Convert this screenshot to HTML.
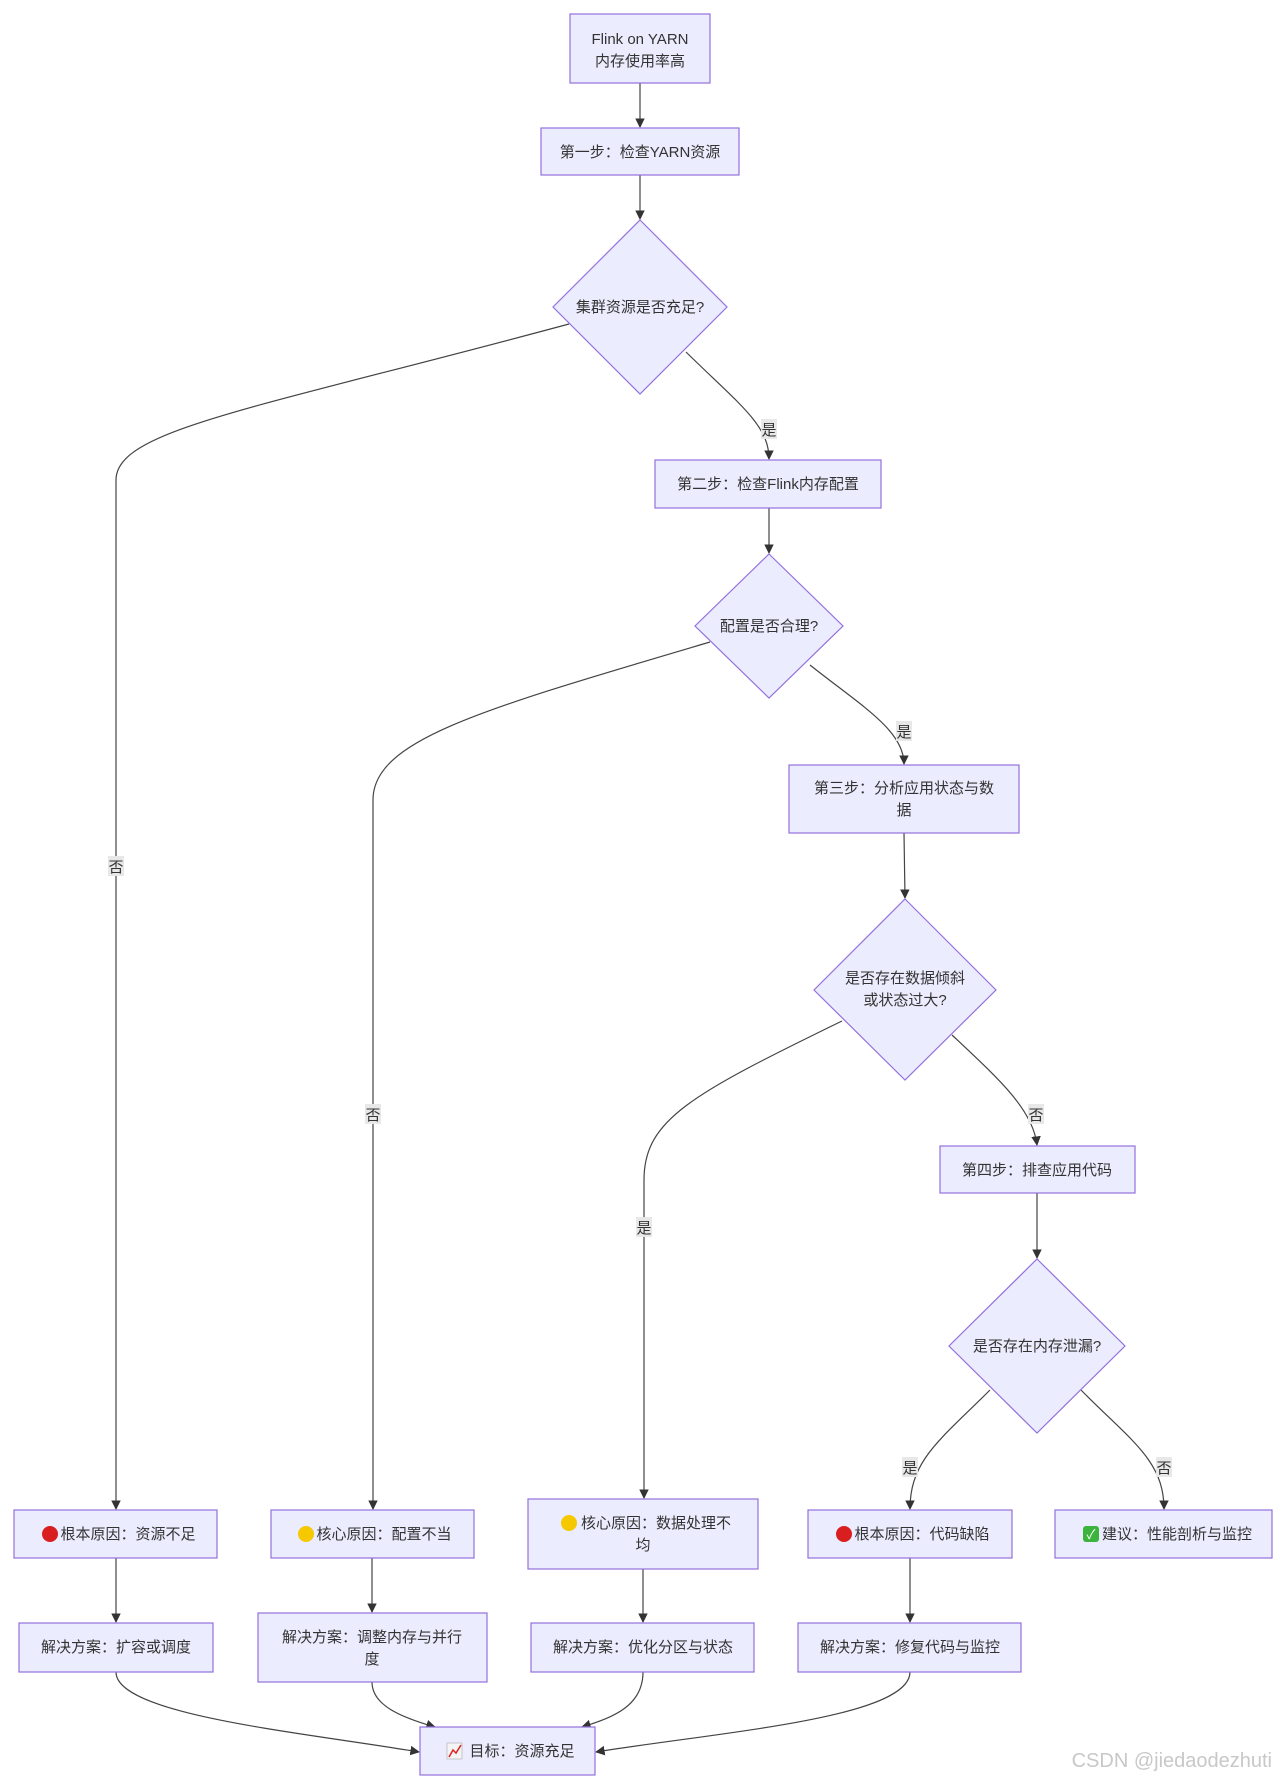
<!DOCTYPE html>
<html><head><meta charset="utf-8"><style>
html,body{margin:0;padding:0;background:#fff;}
svg{display:block;}
text{font-family:"Liberation Sans","Noto Sans CJK SC",sans-serif;font-size:15px;fill:#333;}
.n{fill:#ECECFF;stroke:#9370DB;stroke-width:1.2;}
.e{fill:none;stroke:#444;stroke-width:1.2;}
.lb{fill:#e8e8e8;}
</style></head><body>
<svg width="1280" height="1782" viewBox="0 0 1280 1782" xmlns="http://www.w3.org/2000/svg">
<defs><marker id="a" viewBox="0 0 10 10" refX="9" refY="5" markerWidth="8" markerHeight="8" orient="auto"><path d="M0,0L10,5L0,10z" fill="#333"/></marker></defs>

<path class="e" d="M640,83 L640,127" marker-end="url(#a)"/>
<path class="e" d="M640,175 L640,219" marker-end="url(#a)"/>
<path class="e" d="M569,324 C250,410 116,430 116,480 L116,1509" marker-end="url(#a)"/>
<path class="e" d="M686,352 C740,405 769,425 769,459" marker-end="url(#a)"/>
<path class="e" d="M769,508 L769,553" marker-end="url(#a)"/>
<path class="e" d="M710,642 C480,710 373,740 373,800 L373,1509" marker-end="url(#a)"/>
<path class="e" d="M810,665 C860,705 904,730 904,764" marker-end="url(#a)"/>
<path class="e" d="M904,833 L905,898" marker-end="url(#a)"/>
<path class="e" d="M842,1021 C690,1095 644,1120 644,1180 L644,1498" marker-end="url(#a)"/>
<path class="e" d="M952,1035 C1000,1080 1033,1110 1037,1145" marker-end="url(#a)"/>
<path class="e" d="M1037,1193 L1037,1258" marker-end="url(#a)"/>
<path class="e" d="M990,1390 C940,1440 910,1460 910,1509" marker-end="url(#a)"/>
<path class="e" d="M1081,1390 C1130,1440 1164,1460 1164,1509" marker-end="url(#a)"/>
<path class="e" d="M116,1558 L116,1622" marker-end="url(#a)"/>
<path class="e" d="M372,1558 L372,1612" marker-end="url(#a)"/>
<path class="e" d="M643,1569 L643,1622" marker-end="url(#a)"/>
<path class="e" d="M910,1558 L910,1622" marker-end="url(#a)"/>
<path class="e" d="M116,1672 C116,1715 300,1732 419,1752" marker-end="url(#a)"/>
<path class="e" d="M372,1682 C372,1705 400,1717 435,1727" marker-end="url(#a)"/>
<path class="e" d="M643,1672 C643,1705 615,1717 582,1727" marker-end="url(#a)"/>
<path class="e" d="M910,1672 C910,1718 720,1732 596,1752" marker-end="url(#a)"/>

<rect class="lb" x="108" y="856" width="16" height="20"/><text x="116" y="872" text-anchor="middle">否</text>
<rect class="lb" x="365" y="1104" width="16" height="20"/><text x="373" y="1120" text-anchor="middle">否</text>
<rect class="lb" x="636" y="1217" width="16" height="20"/><text x="644" y="1233" text-anchor="middle">是</text>
<rect class="lb" x="761" y="419" width="16" height="20"/><text x="769" y="435" text-anchor="middle">是</text>
<rect class="lb" x="896" y="721" width="16" height="20"/><text x="904" y="737" text-anchor="middle">是</text>
<rect class="lb" x="1028" y="1104" width="16" height="20"/><text x="1036" y="1120" text-anchor="middle">否</text>
<rect class="lb" x="902" y="1457" width="16" height="20"/><text x="910" y="1473" text-anchor="middle">是</text>
<rect class="lb" x="1156" y="1457" width="16" height="20"/><text x="1164" y="1473" text-anchor="middle">否</text>

<rect class="n" x="570" y="14" width="140" height="69"/>
<text x="640" y="44" text-anchor="middle">Flink on YARN</text>
<text x="640" y="66" text-anchor="middle">内存使用率高</text>

<rect class="n" x="541" y="128" width="198" height="47"/>
<text x="640" y="157" text-anchor="middle">第一步：检查YARN资源</text>

<polygon class="n" points="640,220 727,307 640,394 553,307"/>
<text x="640" y="312" text-anchor="middle">集群资源是否充足?</text>

<rect class="n" x="655" y="460" width="226" height="48"/>
<text x="768" y="489" text-anchor="middle">第二步：检查Flink内存配置</text>

<polygon class="n" points="769,554 843,626 769,698 695,626"/>
<text x="769" y="631" text-anchor="middle">配置是否合理?</text>

<rect class="n" x="789" y="765" width="230" height="68"/>
<text x="904" y="793" text-anchor="middle">第三步：分析应用状态与数</text>
<text x="904" y="815" text-anchor="middle">据</text>

<polygon class="n" points="905,899 996,990 905,1080 814,990"/>
<text x="905" y="983" text-anchor="middle">是否存在数据倾斜</text>
<text x="905" y="1005" text-anchor="middle">或状态过大?</text>

<rect class="n" x="940" y="1146" width="195" height="47"/>
<text x="1037" y="1175" text-anchor="middle">第四步：排查应用代码</text>

<polygon class="n" points="1037,1259 1125,1346 1037,1433 949,1346"/>
<text x="1037" y="1351" text-anchor="middle">是否存在内存泄漏?</text>

<rect class="n" x="14" y="1510" width="203" height="48"/>
<circle cx="50" cy="1534" r="8" fill="#d81e1e"/>
<text x="128" y="1539" text-anchor="middle">根本原因：资源不足</text>

<rect class="n" x="271" y="1510" width="203" height="48"/>
<circle cx="306" cy="1534" r="8" fill="#f5c800"/>
<text x="384" y="1539" text-anchor="middle">核心原因：配置不当</text>

<rect class="n" x="528" y="1499" width="230" height="70"/>
<circle cx="569" cy="1523" r="8" fill="#f5c800"/>
<text x="656" y="1528" text-anchor="middle">核心原因：数据处理不</text>
<text x="643" y="1550" text-anchor="middle">均</text>

<rect class="n" x="808" y="1510" width="204" height="48"/>
<circle cx="844" cy="1534" r="8" fill="#d81e1e"/>
<text x="922" y="1539" text-anchor="middle">根本原因：代码缺陷</text>

<rect class="n" x="1055" y="1510" width="217" height="48"/>
<rect x="1083" y="1526" width="16" height="16" rx="3" fill="#3cb33c"/>
<text x="1091" y="1539" text-anchor="middle" style="fill:#fff;font-size:13px">✓</text>
<text x="1177" y="1539" text-anchor="middle">建议：性能剖析与监控</text>

<rect class="n" x="19" y="1623" width="194" height="49"/>
<text x="116" y="1652" text-anchor="middle">解决方案：扩容或调度</text>

<rect class="n" x="258" y="1613" width="229" height="69"/>
<text x="372" y="1642" text-anchor="middle">解决方案：调整内存与并行</text>
<text x="372" y="1664" text-anchor="middle">度</text>

<rect class="n" x="531" y="1623" width="223" height="49"/>
<text x="643" y="1652" text-anchor="middle">解决方案：优化分区与状态</text>

<rect class="n" x="798" y="1623" width="223" height="49"/>
<text x="910" y="1652" text-anchor="middle">解决方案：修复代码与监控</text>

<rect class="n" x="420" y="1727" width="175" height="48"/>
<rect x="447" y="1743" width="15" height="16" fill="#f4f4f4" stroke="#bbb" stroke-width="0.8"/>
<path d="M449,1757 L453,1750 L456,1753 L461,1745" fill="none" stroke="#d22" stroke-width="1.5"/>
<text x="522" y="1756" text-anchor="middle">目标：资源充足</text>

<text x="1272" y="1767" text-anchor="end" style="fill:#c8c8c8;font-size:20px">CSDN @jiedaodezhuti</text>
</svg>
</body></html>
